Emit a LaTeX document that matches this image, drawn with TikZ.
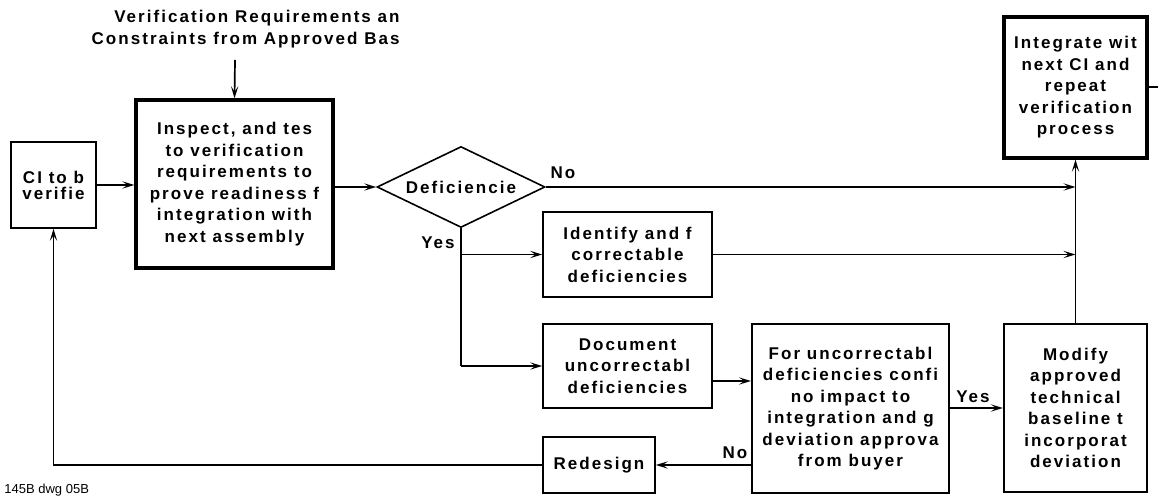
\documentclass[tikz,border=0pt]{standalone}
\usepackage{fontspec}
\setmainfont{Liberation Sans}
\newfontfamily\flowfont{Liberation Sans}[LetterSpace=12]
\usetikzlibrary{shapes.geometric,arrows.meta}

\begin{document}
\begin{tikzpicture}[x=0.5pt,y=-0.5pt,
  every node/.style={font=\flowfont\bfseries\fontsize{8.5}{10.75}\selectfont,align=center,inner sep=0pt},
  box/.style={draw,line width=0.8pt},
  heavybox/.style={draw,line width=1.6pt},
  decision/.style={draw,diamond,aspect=2.07,line width=0.8pt},
  flow/.style={line width=0.85pt},
  arr/.style={flow,-{Stealth[length=6pt,width=3.6pt,inset=2.6pt]}}]
\useasboundingbox (0,0) rectangle (1158,502);

\node[anchor=east,align=right] (reqs) at (400,29) {Verification Requirements an\\Constraints from Approved Bas};
\coordinate (reqsend) at (235,60);

\node[box,minimum width=42.5pt,minimum height=43pt,font=\flowfont\bfseries\fontsize{8.5}{8}\selectfont] (ci) at (53.5,185) {CI to b\\verifie};
\node[heavybox,minimum width=98.5pt,minimum height=84pt] (inspect) at (234.5,184) {Inspect, and tes\\to verification\\requirements to\\prove readiness f\\integration with\\next assembly};
\node[decision,minimum width=84pt,minimum height=40.5pt] (defic) at (461,187) {Deficiencie};
\node[box,minimum width=84.5pt,minimum height=42.5pt] (fixit) at (627.5,254.5) {Identify and f\\correctable\\deficiencies};
\node[box,minimum width=84.5pt,minimum height=42pt] (docu) at (627.5,366) {Document\\uncorrectabl\\deficiencies};
\node[box,line width=1pt,minimum width=98.5pt,minimum height=84.5pt] (waiver) at (850.5,408.5) {For uncorrectabl\\deficiencies confi\\no impact to\\integration and g\\deviation approva\\from buyer};
\node[box,minimum width=56pt,minimum height=28pt] (redes) at (599,465) {Redesign};
\node[box,line width=1.1pt,minimum width=71.5pt,minimum height=84pt] (modify) at (1075.5,408) {Modify\\approved\\technical\\baseline t\\incorporat\\deviation};
\node[heavybox,minimum width=71.5pt,minimum height=70.5pt] (integ) at (1075.5,87.5) {Integrate wit\\next CI and\\repeat\\verification\\process};
\coordinate (exit) at (1158,87);

\node (no1) at (563,173) {No};
\node (yes1) at (438,243) {Yes};
\node (no2) at (735,453) {No};
\node (yes2) at (973,397) {Yes};
\node[anchor=west,font=\normalfont\fontsize{6.5}{7}\selectfont] (dwg) at (4,490) {145B dwg 05B};

\draw[arr] (reqsend) -- (inspect.north);
\draw[arr] (ci.east) -- (ci.east -| inspect.west);
\draw[arr] (inspect.east |- defic.west) -- (defic.west);
\draw[arr] (defic.east) -- (defic.east -| integ.south);
\draw[arr] (modify.north) -- (integ.south);
\draw[flow] (integ.east |- exit) -- (exit);
\draw[flow] (defic.south) -- (defic.south |- docu.west);
\draw[arr] (defic.south |- fixit.west) -- (fixit.west);
\draw[arr] (defic.south |- docu.west) -- (docu.west);
\draw[arr] (fixit.east) -- (fixit.east -| integ.south);
\draw[arr] ([yshift=-7.5pt]docu.east) -- ([yshift=-7.5pt]docu.east -| waiver.west);
\draw[arr] (waiver.east |- modify.west) -- (modify.west);
\draw[arr] (redes.east -| waiver.west) -- (redes.east);
\draw[arr] (redes.west) -- (redes.west -| ci.south) -- (ci.south);
\end{tikzpicture}
\end{document}
